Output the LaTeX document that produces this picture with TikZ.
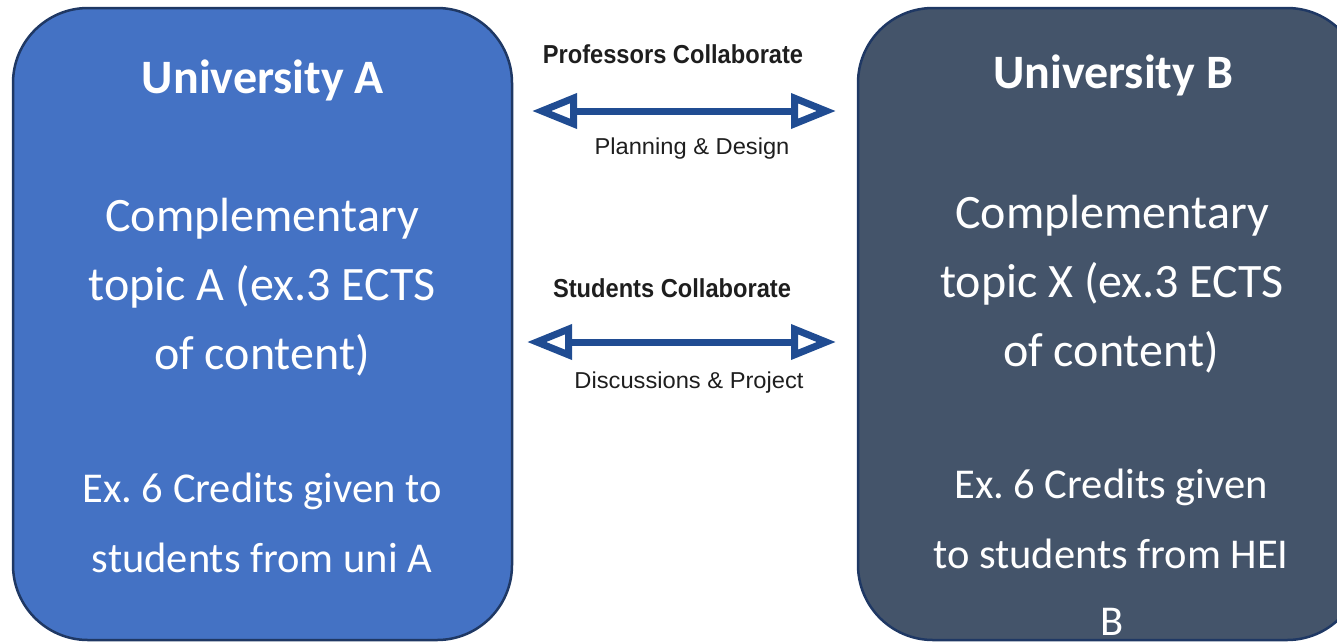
\documentclass[tikz,border=0pt]{standalone}
\usepackage{fontspec}
\setmainfont{Carlito}
\newfontfamily\condfont[FakeStretch=0.91]{Liberation Sans}
\newfontfamily\plainlabfont[FakeStretch=1.03]{Liberation Sans}
\usetikzlibrary{arrows.meta}
\definecolor{uniAfill}{HTML}{4472C4}
\definecolor{uniBfill}{HTML}{44546A}
\definecolor{boxedge}{HTML}{1F3864}
\definecolor{arrowblue}{RGB}{32,76,146}
\definecolor{labelgray}{HTML}{1E1E1E}
\tikzset{
  unibox/.style={draw=boxedge, line width=2.5pt, rounded corners=75pt, minimum width=#1, minimum height=632pt, inner sep=0pt},
  title/.style={anchor=base, text=white, font=\fontsize{48}{48}\selectfont\bfseries},
  bodytxt/.style={anchor=base, text=white, font=\fontsize{48}{48}\selectfont},
  smalltxt/.style={anchor=base, text=white, font=\fontsize{42.5}{42.5}\selectfont},
  collab/.style={anchor=base, text=labelgray, font=\condfont\fontsize{26}{26}\selectfont\bfseries},
  sublabel/.style={anchor=base, text=labelgray, font=\plainlabfont\fontsize{23}{23}\selectfont},
  twoway/.style={draw=arrowblue, line width=7pt, {Triangle[open,length=45pt,width=34pt]}-{Triangle[open,length=45pt,width=34pt]}}
}
\frenchspacing
\begin{document}
\begin{tikzpicture}[x=1pt,y=-1pt]
\useasboundingbox (0,0) rectangle (1337,641);
\begin{scope}
\clip (0,0) rectangle (1337,641);
\node[unibox=499pt, fill=uniAfill] (uniA) at (262.5,324) {};
\node[unibox=504pt, fill=uniBfill] (uniB) at (1110,324) {};
\end{scope}
% left texts
\node[title] (tA) at (263,93) {University A};
\node[bodytxt] (a1) at (262,231) {Complementary};
\node[bodytxt] (a2) at (262,300) {topic A (ex.3 ECTS};
\node[bodytxt] (a3) at (262,369) {of content)};
\node[smalltxt] (a4) at (262,502) {Ex. 6 Credits given to};
\node[smalltxt] (a5) at (262,572) {students from uni A};
% right texts
\node[title] (tB) at (1113,88) {University B};
\node[bodytxt] (b1) at (1112,228) {Complementary};
\node[bodytxt] (b2) at (1112,297) {topic X (ex.3 ECTS};
\node[bodytxt] (b3) at (1111,366) {of content)};
\node[smalltxt] (b4) at (1111,498) {Ex. 6 Credits given};
\node[smalltxt] (b5) at (1111,568) {to students from HEI};
\node[smalltxt] (b6) at (1112,635) {B};
% middle
\node[collab] (pc) at (673,63) {Professors Collaborate};
\node[sublabel] (pd) at (692,154) {Planning \& Design};
\node[collab] (sc) at (672,297) {Students Collaborate};
\node[sublabel] (dp) at (689,388) {Discussions \& Project};
\coordinate (p1) at (532,111);
\coordinate (p2) at (836,111);
\coordinate (s1) at (527,342);
\coordinate (s2) at (836,342);
\draw[twoway] (p1) -- (p2);
\draw[twoway] (s1) -- (s2);
\end{tikzpicture}
\end{document}
